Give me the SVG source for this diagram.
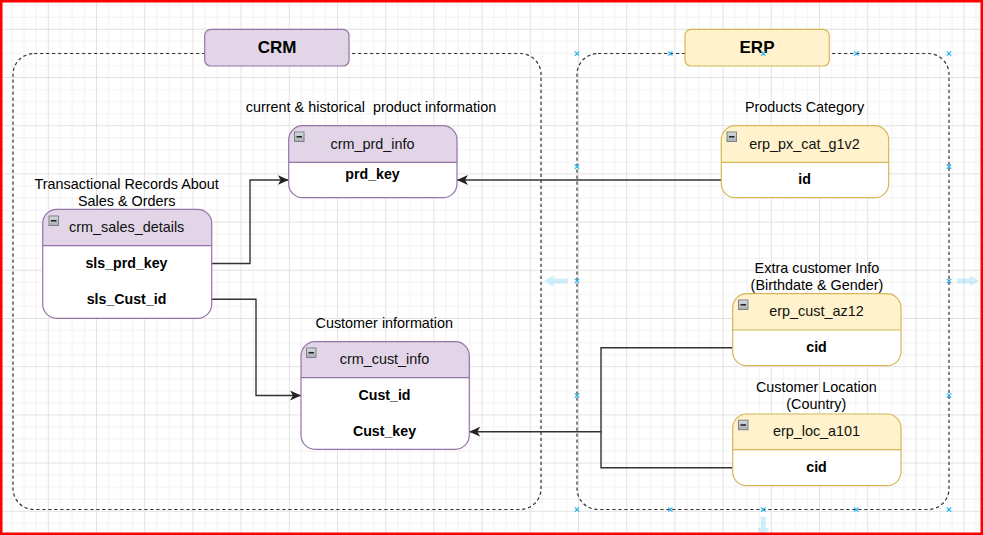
<svg xmlns="http://www.w3.org/2000/svg" width="983" height="535" viewBox="0 0 983 535">
<defs>
<style>
text{font-family:"Liberation Sans",Arial,Helvetica,sans-serif;fill:#000;}
.lbl{font-size:14.4px;text-anchor:middle;white-space:pre;}
.hdr{font-size:14.4px;text-anchor:middle;fill:#111;}
.fld{font-size:14.2px;font-weight:bold;text-anchor:middle;}
.ttl{font-size:17px;font-weight:bold;text-anchor:middle;}
.cont{fill:none;stroke:#333;stroke-width:1.2;stroke-dasharray:3.3 2.7;}
.pbody{fill:#fff;}
.phead{fill:#e1d5e7;}
.pline{stroke:#9673a6;stroke-width:1.2;fill:none;}
.ybody{fill:#fff;}
.yhead{fill:#fff2cc;}
.yline{stroke:#d6b656;stroke-width:1.2;fill:none;}
.edge{fill:none;stroke:#333;stroke-width:1.4;}
.sel{stroke:#29b6f2;stroke-width:1.2;fill:none;}
.hov{fill:#29b6f2;opacity:0.22;}
</style>
<pattern id="grid" width="48.2" height="48.2" patternUnits="userSpaceOnUse" x="-0.4" y="28.8">
<path d="M12.55,0V48.2M24.6,0V48.2M36.65,0V48.2M0,12.55H48.2M0,24.6H48.2M0,36.65H48.2" stroke="#f1f1f1" stroke-width="1"/>
<path d="M0.5,0V48.2M0,0.5H48.2" stroke="#e2e2e2" stroke-width="1"/>
</pattern>
<marker id="arr" viewBox="0 0 11 10" refX="11" refY="5" markerWidth="11" markerHeight="10" markerUnits="userSpaceOnUse" orient="auto">
<path d="M0,0 L11,5 L0,10 L3,5 Z" fill="#222"/>
</marker>
<linearGradient id="ico" x1="0" y1="0" x2="0" y2="1">
<stop offset="0" stop-color="#d8dbdf"/>
<stop offset="1" stop-color="#a9aeb4"/>
</linearGradient>
<g id="minus">
<rect x="0.5" y="0.5" width="9.5" height="9.5" fill="url(#ico)" stroke="#7d8288" stroke-width="1"/>
<line x1="2.5" y1="5.3" x2="8" y2="5.3" stroke="#111" stroke-width="1.4"/>
</g>
</defs>

<rect width="983" height="535" fill="#fff"/>
<rect width="983" height="535" fill="url(#grid)"/>

<g id="containers">
<rect id="crm-container" class="cont" x="13" y="53.5" width="528" height="456" rx="21"/>
<rect id="erp-container" class="cont" x="577" y="53.5" width="372" height="456" rx="21"/>
</g>

<g id="crm-title">
<rect x="204.7" y="29.3" width="144.3" height="36.7" rx="6" fill="#e1d5e7" stroke="#9673a6" stroke-width="1.2"/>
<text class="ttl" x="277" y="53">CRM</text>
</g>
<g id="erp-title">
<rect x="685" y="29.3" width="144.3" height="36.7" rx="6" fill="#fff2cc" stroke="#d6b656" stroke-width="1.2"/>
<text class="ttl" x="757" y="53">ERP</text>
</g>

<g id="connectors">
<path class="edge" d="M211.7,263.5 H250 V180 H288.7" marker-end="url(#arr)"/>
<path class="edge" d="M721.3,180 H457" marker-end="url(#arr)"/>
<path class="edge" d="M211.7,299.3 H256 V395.5 H301" marker-end="url(#arr)"/>
<path class="edge" d="M732.7,347.7 H601 V431.7 H469.3" marker-end="url(#arr)"/>
<path class="edge" d="M732.7,467.7 H601 V431.7"/>
</g>

<g id="labels">
<text class="lbl" x="371" y="112">current &amp; historical  product information</text>
<text class="lbl" x="126.7" y="188.5">Transactional Records About</text>
<text class="lbl" x="126.7" y="205.8">Sales &amp; Orders</text>
<text class="lbl" x="384.3" y="328.3">Customer information</text>
<text class="lbl" x="804.5" y="112">Products Category</text>
<text class="lbl" x="817" y="272.7">Extra customer Info</text>
<text class="lbl" x="817" y="290">(Birthdate &amp; Gender)</text>
<text class="lbl" x="816.3" y="391.7">Customer Location</text>
<text class="lbl" x="816.3" y="409">(Country)</text>
</g>

<g id="crm_prd_info">
<rect class="pbody" x="288.7" y="125.7" width="168.3" height="72" rx="14"/>
<path class="phead" d="M288.7,162.3 V139.7 A14,14 0 0 1 302.7,125.7 H443 A14,14 0 0 1 457,139.7 V162.3 Z"/>
<line class="pline" x1="288.7" y1="162.3" x2="457" y2="162.3"/>
<rect class="pline" x="288.7" y="125.7" width="168.3" height="72" rx="14"/>
<use href="#minus" x="294" y="131.5"/>
<text class="hdr" x="372.5" y="148.5">crm_prd_info</text>
<text class="fld" x="372.5" y="178.5">prd_key</text>
</g>

<g id="crm_sales_details">
<rect class="pbody" x="42.7" y="209.3" width="169" height="109" rx="14"/>
<path class="phead" d="M42.7,245.7 V223.3 A14,14 0 0 1 56.7,209.3 H197.7 A14,14 0 0 1 211.7,223.3 V245.7 Z"/>
<line class="pline" x1="42.7" y1="245.7" x2="211.7" y2="245.7"/>
<rect class="pline" x="42.7" y="209.3" width="169" height="109" rx="14"/>
<use href="#minus" x="48.5" y="215.5"/>
<text class="hdr" x="126.7" y="232">crm_sales_details</text>
<text class="fld" x="126.5" y="268.3">sls_prd_key</text>
<text class="fld" x="126.5" y="304">sls_Cust_id</text>
</g>

<g id="crm_cust_info">
<rect class="pbody" x="301" y="341.7" width="168.3" height="107.6" rx="14"/>
<path class="phead" d="M301,377.7 V355.7 A14,14 0 0 1 315,341.7 H455.3 A14,14 0 0 1 469.3,355.7 V377.7 Z"/>
<line class="pline" x1="301" y1="377.7" x2="469.3" y2="377.7"/>
<rect class="pline" x="301" y="341.7" width="168.3" height="107.6" rx="14"/>
<use href="#minus" x="306" y="347.5"/>
<text class="hdr" x="384.5" y="364.3">crm_cust_info</text>
<text class="fld" x="384.5" y="399.5">Cust_id</text>
<text class="fld" x="384.5" y="435.7">Cust_key</text>
</g>

<g id="erp_px_cat_g1v2">
<rect class="ybody" x="721.3" y="125.7" width="167.4" height="72" rx="14"/>
<path class="yhead" d="M721.3,162.3 V139.7 A14,14 0 0 1 735.3,125.7 H874.7 A14,14 0 0 1 888.7,139.7 V162.3 Z"/>
<line class="yline" x1="721.3" y1="162.3" x2="888.7" y2="162.3"/>
<rect class="yline" x="721.3" y="125.7" width="167.4" height="72" rx="14"/>
<use href="#minus" x="726.5" y="131.5"/>
<text class="hdr" x="804.5" y="148.5">erp_px_cat_g1v2</text>
<text class="fld" x="804.5" y="184">id</text>
</g>

<g id="erp_cust_az12">
<rect class="ybody" x="732.7" y="293.7" width="168.3" height="72" rx="14"/>
<path class="yhead" d="M732.7,330 V307.7 A14,14 0 0 1 746.7,293.7 H887 A14,14 0 0 1 901,307.7 V330 Z"/>
<line class="yline" x1="732.7" y1="330" x2="901" y2="330"/>
<rect class="yline" x="732.7" y="293.7" width="168.3" height="72" rx="14"/>
<use href="#minus" x="738" y="299.5"/>
<text class="hdr" x="816.5" y="315.5">erp_cust_az12</text>
<text class="fld" x="816.5" y="351.5">cid</text>
</g>

<g id="erp_loc_a101">
<rect class="ybody" x="732.7" y="414" width="168.3" height="71.7" rx="14"/>
<path class="yhead" d="M732.7,449.7 V428 A14,14 0 0 1 746.7,414 H887 A14,14 0 0 1 901,428 V449.7 Z"/>
<line class="yline" x1="732.7" y1="449.7" x2="901" y2="449.7"/>
<rect class="yline" x="732.7" y="414" width="168.3" height="71.7" rx="14"/>
<use href="#minus" x="738" y="419.7"/>
<text class="hdr" x="816.5" y="436">erp_loc_a101</text>
<text class="fld" x="816.5" y="471.5">cid</text>
</g>

<g id="selection-handles">
<path class="sel" d="M574.8,51.3l4.4,4.4m0,-4.4l-4.4,4.4 M668.1,51.3l4.4,4.4m0,-4.4l-4.4,4.4 M761.1,51.3l4.4,4.4m0,-4.4l-4.4,4.4 M854.1,51.3l4.4,4.4m0,-4.4l-4.4,4.4 M946.8,51.3l4.4,4.4m0,-4.4l-4.4,4.4"/>
<path class="sel" d="M574.8,164.5l4.4,4.4m0,-4.4l-4.4,4.4 M574.8,278.8l4.4,4.4m0,-4.4l-4.4,4.4 M574.8,393.3l4.4,4.4m0,-4.4l-4.4,4.4 M946.8,164.5l4.4,4.4m0,-4.4l-4.4,4.4 M946.8,278.8l4.4,4.4m0,-4.4l-4.4,4.4 M946.8,393.3l4.4,4.4m0,-4.4l-4.4,4.4"/>
<path class="sel" d="M574.8,507.3l4.4,4.4m0,-4.4l-4.4,4.4 M668.1,507.3l4.4,4.4m0,-4.4l-4.4,4.4 M761.1,507.3l4.4,4.4m0,-4.4l-4.4,4.4 M854.1,507.3l4.4,4.4m0,-4.4l-4.4,4.4 M946.8,507.3l4.4,4.4m0,-4.4l-4.4,4.4"/>
<path class="hov" d="M544,281 L553,275.5 V278.5 H567.7 V283.5 H553 V286.5 Z"/>
<path class="hov" d="M979,281 L970,275.5 V278.5 H957 V283.5 H970 V286.5 Z"/>
<path class="hov" d="M763.3,539 L757.5,528 H760.8 V516.7 H765.8 V528 H769.1 Z"/>
</g>

<rect x="1.25" y="1.25" width="980.5" height="532.5" fill="none" stroke="#f00" stroke-width="2.5"/>
</svg>
